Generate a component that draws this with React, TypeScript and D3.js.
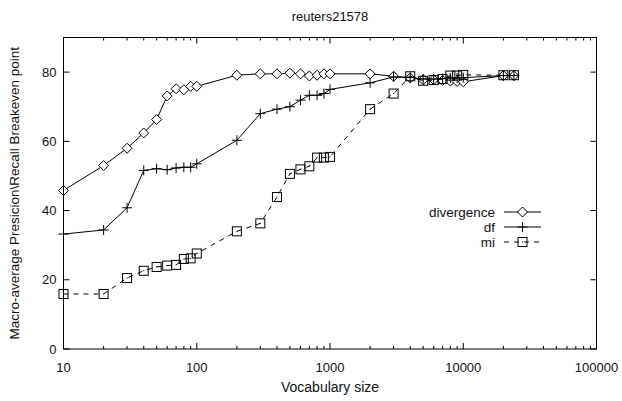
import React from "react";
import * as d3 from "d3";

const vocabSizes = [10,20,30,40,50,60,70,80,90,100,200,300,400,500,600,700,800,900,1000,2000,3000,4000,5000,6000,7000,8000,9000,10000,20000,24000];
const divergence = [45.8,53,58,62.4,66.3,73.1,75.2,74.9,75.9,75.9,79.1,79.5,79.5,79.7,79.5,78.9,79.1,79.5,79.5,79.5,78.8,78.3,77.8,77.8,77.6,77.4,77.3,77.2,79,79];
const dfValues = [33.2,34.4,40.8,51.6,52.1,51.8,52.3,52.5,52.5,53.5,60.3,68,69.3,70,71.9,73.3,73.3,73.8,75,76.9,78.6,78.5,78,78,78.1,78.3,78.3,78.4,79,79];
const miValues = [15.9,15.9,20.5,22.6,23.7,24.1,24.3,26,26.2,27.6,34,36.3,43.9,50.6,51.9,52.8,55.3,55.3,55.5,69.3,73.8,78.8,77.5,77.7,78,79,79,79.2,79.1,79.1];
const xTickValues = [10,100,1000,10000,100000];
const yTickValues = [0,20,40,60,80];
const seriesNames = ["divergence","df","mi"];

const W = 622, H = 401;
const L = 63.5, R = 596.5, T = 37.5, B = 349;
const FONT = "'Liberation Sans', Arial, Helvetica, sans-serif";
const TXT = "#111";

function Marker({ kind, x, y }: { kind: string; x: number; y: number }) {
  const s = 5;
  if (kind === "divergence") {
    return <path d={`M${x - s},${y}L${x},${y - s}L${x + s},${y}L${x},${y + s}Z`} fill="white" stroke="#000" strokeWidth={1} />;
  }
  if (kind === "df") {
    return <path d={`M${x - s},${y}H${x + s}M${x},${y - s}V${y + s}`} stroke="#000" strokeWidth={1} fill="none" />;
  }
  return (
    <g>
      <rect x={x - 4.5} y={y - 4.5} width={9} height={9} fill="none" stroke="#000" strokeWidth={1} />
      <rect x={x - 0.5} y={y - 0.5} width={1} height={1} fill="#000" />
    </g>
  );
}

export default function App() {
  const x = d3.scaleLog().domain([10, 100000]).range([L, R]);
  const y = d3.scaleLinear().domain([0, 90]).range([B, T]);

  const minorTicks: number[] = [];
  for (let d = 10; d < 100000; d *= 10) for (let k = 2; k <= 9; k++) minorTicks.push(d * k);

  const series = [
    { name: "divergence", values: divergence, dash: undefined as string | undefined },
    { name: "df", values: dfValues, dash: undefined },
    { name: "mi", values: miValues, dash: "5,5" },
  ];

  const line = d3.line<[number, number]>().x((d) => x(d[0])).y((d) => y(d[1]));

  const legendY = [212, 227, 242];

  return (
    <svg width={W} height={H} style={{ position: "absolute", left: 0, top: 0, background: "white" }} fontFamily={FONT}>
      <rect x={0} y={0} width={W} height={H} fill="white" />
      <text x={(L + R) / 2} y={21} textAnchor="middle" fontSize={13} fill={TXT}>reuters21578</text>

      {series.map((s) => (
        <g key={s.name}>
          <path
            d={line(vocabSizes.map((v, i) => [v, s.values[i]] as [number, number])) || ""}
            fill="none"
            stroke="#000"
            strokeWidth={1}
            strokeDasharray={s.dash}
          />
          {vocabSizes.map((v, i) => (
            <Marker key={i} kind={s.name} x={x(v)} y={y(s.values[i])} />
          ))}
        </g>
      ))}

      <rect x={L} y={T} width={R - L} height={B - T} fill="none" stroke="#000" strokeWidth={1} />

      {xTickValues.map((t) => (
        <g key={t}>
          <line x1={x(t)} x2={x(t)} y1={B} y2={B - 6} stroke="#000" />
          <line x1={x(t)} x2={x(t)} y1={T} y2={T + 6} stroke="#000" />
          <text x={x(t)} y={371.5} textAnchor="middle" fontSize={13} fill={TXT}>{t}</text>
        </g>
      ))}
      {minorTicks.map((t) => (
        <g key={t}>
          <line x1={x(t)} x2={x(t)} y1={B} y2={B - 3} stroke="#000" />
          <line x1={x(t)} x2={x(t)} y1={T} y2={T + 3} stroke="#000" />
        </g>
      ))}
      {yTickValues.map((t) => (
        <g key={t}>
          <line x1={L} x2={L + 6} y1={y(t)} y2={y(t)} stroke="#000" />
          <line x1={R} x2={R - 6} y1={y(t)} y2={y(t)} stroke="#000" />
          <text x={L - 7} y={y(t) + 4.5} textAnchor="end" fontSize={13} fill={TXT}>{t}</text>
        </g>
      ))}

      <text x={(L + R) / 2} y={392} textAnchor="middle" fontSize={14} fill={TXT}>Vocabulary size</text>
      <text transform={`translate(18.5,${(T + B) / 2}) rotate(-90)`} textAnchor="middle" fontSize={13.5} fill={TXT}>
        Macro-average Presicion\Recall Breakeven point
      </text>

      {series.map((s, i) => (
        <g key={s.name}>
          <text x={495} y={legendY[i] + 4.5} textAnchor="end" fontSize={13.5} fill={TXT}>{seriesNames[i]}</text>
          <line x1={504} x2={541} y1={legendY[i]} y2={legendY[i]} stroke="#000" strokeDasharray={s.dash} />
          <Marker kind={s.name} x={522.5} y={legendY[i]} />
        </g>
      ))}
    </svg>
  );
}
